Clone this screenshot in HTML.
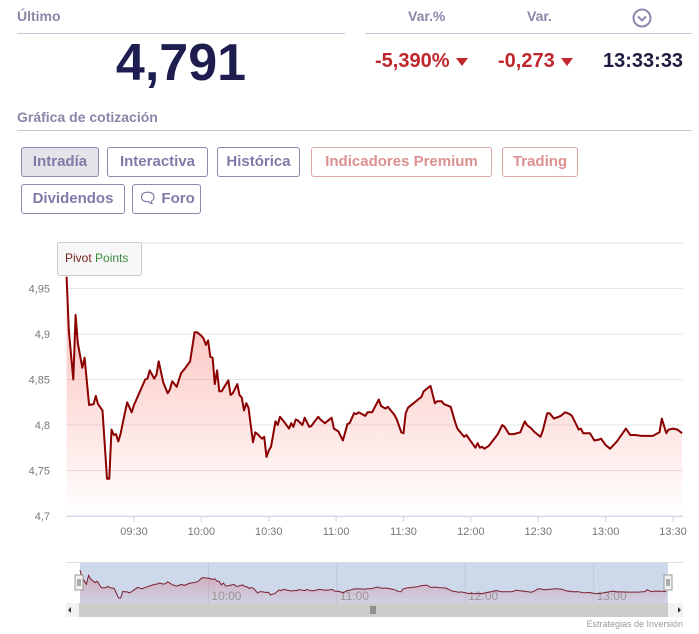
<!DOCTYPE html>
<html><head><meta charset="utf-8"><style>
body{margin:0;width:699px;height:634px;overflow:hidden;background:#fff;font-family:"Liberation Sans",sans-serif;position:relative}
.a{position:absolute}
.lbl{color:#8a86a8;font-weight:bold;font-size:14px}
.hr{position:absolute;height:1px;background:#c9c7d9}
.btn{position:absolute;border:1px solid #8c88b0;border-radius:3px;color:#7f7aa8;font-weight:bold;font-size:15px;box-sizing:border-box;text-align:center;line-height:28px;height:30px}
.btn.p{border-color:#e0a5a5;color:#dc9090}
.red{color:#c0272d;font-weight:bold;font-size:20px}
.tri{display:inline-block;width:0;height:0;border-left:6px solid transparent;border-right:6px solid transparent;border-top:8px solid #c0272d;margin-left:6px;vertical-align:middle}
</style></head><body>
<div class="a lbl" style="left:17px;top:8px">Último</div>
<div class="hr" style="left:17px;top:33px;width:328px"></div>
<div class="hr" style="left:365px;top:33px;width:327px"></div>
<div class="a lbl" style="left:408px;top:8px">Var.%</div>
<div class="a lbl" style="left:527px;top:8px">Var.</div>
<svg class="a" style="left:632px;top:8px" width="20" height="20"><circle cx="10" cy="10" r="8.5" fill="none" stroke="#8c88b0" stroke-width="2"/><path d="M6 8.5 L10 12.5 L14 8.5" fill="none" stroke="#8c88b0" stroke-width="2"/></svg>
<div class="a" style="left:80px;top:33px;width:202px;text-align:center;font-size:52px;font-weight:bold;color:#1d1d4f;letter-spacing:0px">4,791</div>
<div class="a red" style="left:375px;top:50px">-5,390%<span class="tri"></span></div>
<div class="a red" style="left:498px;top:50px">-0,273<span class="tri"></span></div>
<div class="a" style="left:603px;top:50px;font-size:20px;font-weight:bold;color:#1d1d3f">13:33:33</div>
<div class="a lbl" style="left:17px;top:109px">Gráfica de cotización</div>
<div class="hr" style="left:17px;top:130px;width:675px"></div>
<div class="btn" style="left:21px;top:147px;width:78px;background:#e3e3ea">Intradía</div>
<div class="btn" style="left:107px;top:147px;width:101px">Interactiva</div>
<div class="btn" style="left:217px;top:147px;width:83px">Histórica</div>
<div class="btn p" style="left:311px;top:147px;width:181px">Indicadores Premium</div>
<div class="btn p" style="left:502px;top:147px;width:76px">Trading</div>
<div class="btn" style="left:21px;top:184px;width:104px">Dividendos</div>
<div class="btn" style="left:132px;top:184px;width:69px">&#x1F5E8; Foro</div>
<svg id="c" class="a" style="left:0;top:0" width="699" height="634"></svg>
<script>
const minutes=[0,1,3,4,5,7,8,10,12,13,14,16,18,19,20,21,22,23,24,26,27,29,30,35,36,37,39,40,41,43,45,46,47,49,51,53,55,57,58,60,61,62,63,64,65,66,67,68,69,72,73,74,76,77,78,79,80,81,83,84,85,87,88,89,90,91,93,94,95,97,99,100,101,102,103,105,106,108,109,112,113,115,118,119,121,123,125,126,128,129,130,133,134,136,139,140,142,143,146,147,149,150,151,152,157,158,159,162,164,165,167,168,171,173,174,177,178,180,182,183,184,185,186,188,192,194,195,197,199,202,204,205,207,208,211,212,214,215,217,220,222,224,225,228,229,230,233,235,237,238,240,242,245,249,251,253,256,261,264,265,267,268,270,272,274];
const prices=[4.963,4.904,4.85,4.921,4.89,4.863,4.874,4.822,4.823,4.832,4.823,4.816,4.741,4.741,4.795,4.789,4.79,4.782,4.79,4.814,4.825,4.814,4.822,4.85,4.851,4.86,4.851,4.855,4.87,4.847,4.835,4.839,4.848,4.842,4.857,4.863,4.87,4.902,4.902,4.898,4.895,4.888,4.893,4.875,4.874,4.845,4.86,4.837,4.837,4.849,4.833,4.835,4.845,4.833,4.83,4.816,4.824,4.819,4.781,4.792,4.79,4.785,4.787,4.765,4.772,4.776,4.804,4.8,4.809,4.803,4.796,4.802,4.798,4.806,4.805,4.8,4.808,4.798,4.799,4.809,4.806,4.802,4.808,4.796,4.793,4.783,4.801,4.802,4.813,4.812,4.814,4.81,4.814,4.814,4.828,4.821,4.818,4.82,4.811,4.806,4.792,4.791,4.813,4.819,4.829,4.831,4.837,4.843,4.824,4.826,4.826,4.823,4.82,4.803,4.796,4.787,4.789,4.782,4.775,4.78,4.775,4.776,4.774,4.777,4.79,4.8,4.798,4.79,4.79,4.792,4.804,4.8,4.796,4.793,4.787,4.794,4.813,4.813,4.807,4.81,4.814,4.812,4.81,4.795,4.796,4.791,4.791,4.783,4.784,4.785,4.778,4.774,4.782,4.796,4.789,4.789,4.788,4.788,4.792,4.807,4.791,4.795,4.796,4.795,4.791];
const yTicks=[4.7,4.75,4.8,4.85,4.9,4.95,5.0];
const yTickLabels=["4,7","4,75","4,8","4,85","4,9","4,95",""];
const xTicks=[30,60,90,120,150,180,210,240,270];
const xTickLabels=["09:30","10:00","10:30","11:00","11:30","12:00","12:30","13:00","13:30"];
const navTicks=[60,120,180,240];
const navTickLabels=["10:00","11:00","12:00","13:00"];
const NS="http://www.w3.org/2000/svg",svg=document.getElementById('c');
const x=m=>66.6+m*2.246, y=v=>516-(v-4.7)*910;
const nx=m=>80+m*2.14;
const pmin=Math.min(...prices),pmax=Math.max(...prices);
const ny=v=>598-(v-pmin)/(pmax-pmin)*28;
function el(t,a,p){const e=document.createElementNS(NS,t);for(const k in a)e.setAttribute(k,a[k]);(p||svg).appendChild(e);return e;}
svg.innerHTML='<defs><linearGradient id="g" x1="0" y1="0" x2="0" y2="1"><stop offset="0" stop-color="#f5665a" stop-opacity="0.45"/><stop offset="1" stop-color="#f5665a" stop-opacity="0"/></linearGradient><linearGradient id="g2" x1="0" y1="0" x2="0" y2="1"><stop offset="0" stop-color="#d87080" stop-opacity="0.5"/><stop offset="1" stop-color="#d87080" stop-opacity="0.05"/></linearGradient></defs>';
yTicks.forEach((v,i)=>{
 const g=el('line',{x1:66,x2:683,y1:y(v),y2:y(v),stroke:'#e6e6e6'});
 
 if(yTickLabels[i]){const t=el('text',{x:50,y:y(v)+4,'text-anchor':'end','font-size':11,fill:'#777'});t.textContent=yTickLabels[i];
 }
});
let d=minutes.map((m,i)=>(i?'L':'M')+x(m).toFixed(1)+' '+y(prices[i]).toFixed(1)).join(' ');
const area=el('path',{d:d+` L${x(minutes[minutes.length-1])} 516 L${x(0)} 516 Z`,fill:'url(#g)'});

const ln=el('path',{d:d,fill:'none',stroke:'#8b0000','stroke-width':2,'stroke-linejoin':'round'});

el('line',{x1:66,x2:683,y1:516.5,y2:516.5,stroke:'#ccd6eb'});
xTicks.forEach((m,i)=>{
 el('line',{x1:x(m),x2:x(m),y1:516,y2:522,stroke:'#ccd6eb'});
 const t=el('text',{x:x(m),y:535,'text-anchor':'middle','font-size':11,fill:'#777'});t.textContent=xTickLabels[i];
 
});
const pb=el('rect',{x:57.5,y:242.5,width:84,height:33,rx:2,fill:'#f7f7f7',stroke:'#cccccc'});

const pt=el('text',{x:65,y:262,'font-size':12,fill:'#7b2222'});pt.innerHTML='Pivot <tspan fill="#3a8a3a">Points</tspan>';

el('line',{x1:66,x2:683,y1:562.5,y2:562.5,stroke:'#ddd'});
const nb=el('rect',{x:80,y:563,width:588,height:40,fill:'#cdd8ea'});

navTicks.forEach((m,i)=>{el('line',{x1:nx(m),x2:nx(m),y1:563,y2:603,stroke:'#bfc8d8'});
 const t=el('text',{x:nx(m)+3,y:600,'font-size':12,fill:'#999'});t.textContent=navTickLabels[i];
 });
let nd=minutes.map((m,i)=>(i?'L':'M')+nx(m).toFixed(1)+' '+ny(prices[i]).toFixed(1)).join(' ');
el('path',{d:nd+` L${nx(minutes[minutes.length-1])} 603 L${nx(0)} 603 Z`,fill:'url(#g2)'});
const nl=el('path',{d:nd,fill:'none',stroke:'#7a2030','stroke-width':1});

[79,668].forEach(hx=>{const h=el('rect',{x:hx-4,y:575,width:8,height:15,fill:'#f2f2f2',stroke:'#999'});
 
 el('line',{x1:hx-1,x2:hx-1,y1:579,y2:586,stroke:'#666'});el('line',{x1:hx+1,x2:hx+1,y1:579,y2:586,stroke:'#666'});});
el('rect',{x:66,y:603,width:617,height:14,fill:'#f2f2f2'});
const sb=el('rect',{x:79,y:603,width:589,height:14,fill:'#cccccc'});

el('path',{d:'M71 607 L68 610 L71 613 Z',fill:'#333'});el('path',{d:'M678 607 L681 610 L678 613 Z',fill:'#333'});
[371,373,375].forEach(v=>el('line',{x1:v,x2:v,y1:606,y2:614,stroke:'#555'}));
const cr=el('text',{x:683,y:627,'text-anchor':'end','font-size':9,fill:'#999'});cr.textContent='Estrategias de Inversión';

</script>
</body></html>
